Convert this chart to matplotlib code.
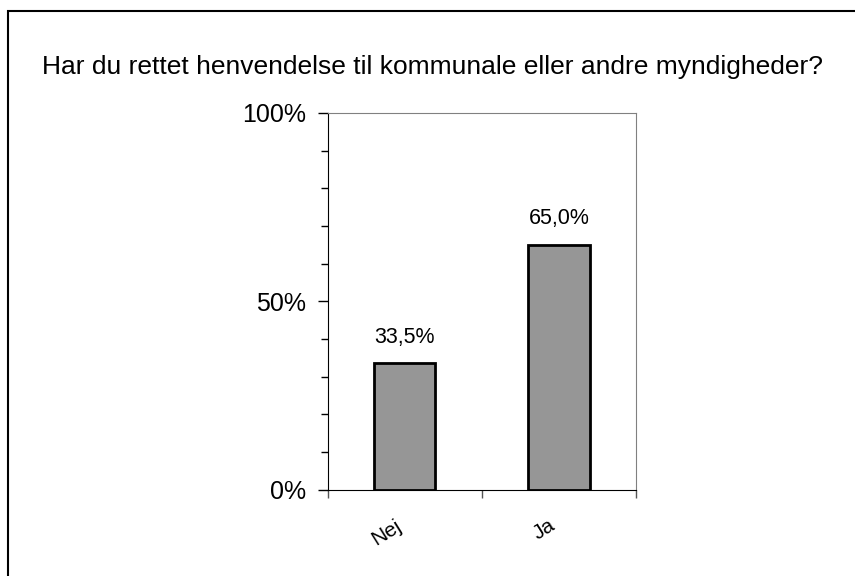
import matplotlib.pyplot as plt
from matplotlib.patches import Rectangle
from matplotlib.ticker import MultipleLocator, FixedLocator

plt.rcParams['font.family'] = ['Liberation Sans', 'DejaVu Sans']

categories = ["Nej", "Ja"]
values = [33.5, 65.0]
value_labels = ["33,5%", "65,0%"]
y_ticks = [0, 50, 100]
y_tick_labels = ["0%", "50%", "100%"]

fig = plt.figure(figsize=(8.55, 5.76), dpi=100)

# frame round the whole chart (runs off right and bottom edge)
fig.patches.append(Rectangle((8 / 855, -0.05), 1.2, 1 - 11 / 576 + 0.05,
                             transform=fig.transFigure, fill=False,
                             edgecolor='black', linewidth=1.5))

ax = fig.add_axes([327.5 / 855, 1 - 489.5 / 576, 308.5 / 855, 376.5 / 576])

x = [0.5, 1.5]
ax.bar(x, values, width=0.4, color='#969696', edgecolor='black', linewidth=2, zorder=3)

for xi, v, lab in zip(x, values, value_labels):
    ax.text(xi, v + 4.2, lab, ha='center', va='bottom', fontsize=15.5)

ax.set_xlim(0, 2)
ax.set_ylim(0, 100)
ax.set_yticks(y_ticks)
ax.set_yticklabels(y_tick_labels, fontsize=18)
ax.yaxis.set_minor_locator(MultipleLocator(10))
ax.tick_params(axis='y', which='major', direction='out', length=7, width=1, pad=8.5)
ax.tick_params(axis='y', which='minor', direction='out', length=5, width=1)

ax.xaxis.set_major_locator(FixedLocator([0, 1, 2]))
ax.set_xticklabels([])
ax.xaxis.set_minor_locator(FixedLocator(x))
ax.set_xticklabels(categories, minor=True, rotation=32, ha='right', fontsize=15)
ax.tick_params(axis='x', which='major', direction='out', length=6, width=1, color='#555555')
ax.tick_params(axis='x', which='minor', length=0, pad=19)

ax.spines['left'].set_color('black')
ax.spines['bottom'].set_color('black')
ax.spines['top'].set_color('#808080')
ax.spines['right'].set_color('#808080')
ax.spines['top'].set_linewidth(0.8)
ax.spines['right'].set_linewidth(0.8)

fig.text(432 / 855, 1 - 67 / 576, "Har du rettet henvendelse til kommunale eller andre myndigheder?",
         ha='center', va='center', fontsize=19)

plt.savefig("out.png", dpi=100)
